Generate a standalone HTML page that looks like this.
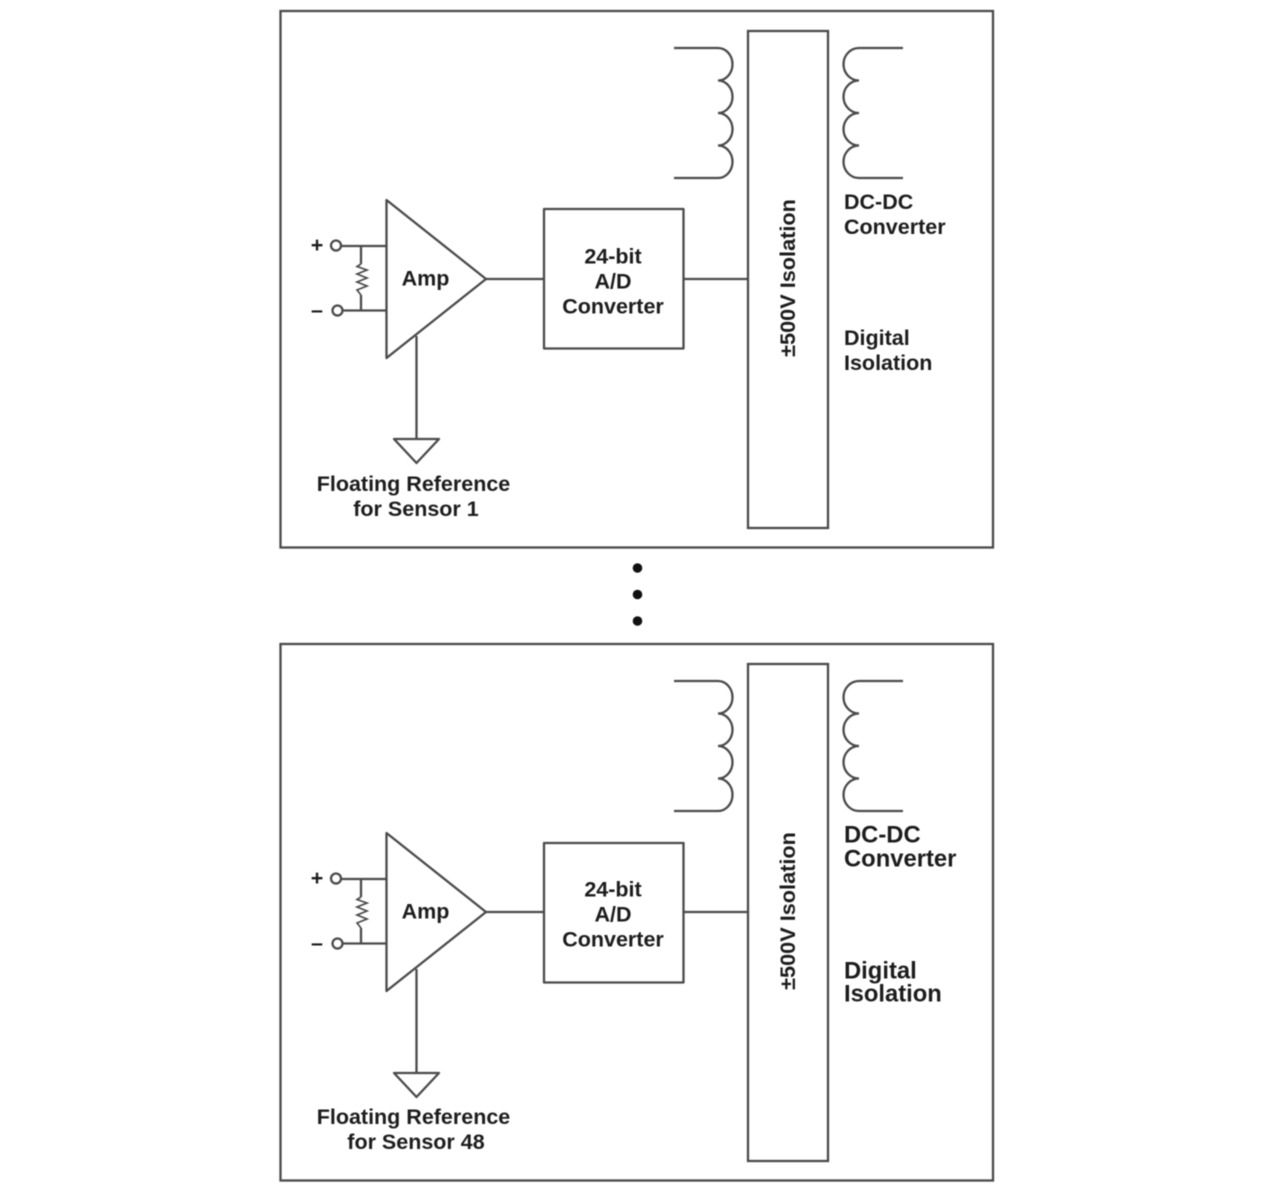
<!DOCTYPE html>
<html><head><meta charset="utf-8">
<style>html,body{margin:0;padding:0;background:#fff}svg{display:block;filter:blur(.55px)}
text{font-family:"Liberation Sans",sans-serif;font-weight:bold;fill:#1c1c1c}</style></head>
<body>
<svg width="1280" height="1190" viewBox="0 0 1280 1190" xmlns="http://www.w3.org/2000/svg">
<defs>
<g id="blk" fill="none" stroke="#4a4a4a" stroke-width="2.300">
<rect x="280.500" y="11" width="712.500" height="536.500"/>
<rect x="748" y="31" width="80" height="497"/>
<path d="M674 48H718A14.500 16.250 0 0 1 718 80.500A14.500 16.250 0 0 1 718 113A14.500 16.250 0 0 1 718 145.500A14.500 16.250 0 0 1 718 178H674"/>
<path d="M903 48H859A15.500 16.250 0 0 0 859 80.500A15.500 16.250 0 0 0 859 113A15.500 16.250 0 0 0 859 145.500A15.500 16.250 0 0 0 859 178H903"/>
<path d="M386.500 200L486 279L386.500 358Z" stroke-linejoin="round"/>
<path d="M486 279H544M683.500 279H748"/>
<path d="M342 246H386.500M343 310.500H386.500M361 246V264M361 295V310.500"/>
<path d="M361 264L357 266.500L367 270L357 274L367 278L357 282L367 286L357 290L361 295" stroke-width="1.700"/>
<circle cx="336" cy="245.500" r="5"/><circle cx="337.500" cy="310.500" r="5"/>
<path d="M416.500 336V439"/>
</g>
</defs>
<use href="#blk"/>
<use href="#blk" y="633"/>
<g fill="none" stroke="#4a4a4a" stroke-width="2.300" stroke-linejoin="round">
<rect x="544" y="209" width="139.500" height="139.500"/>
<rect x="544" y="843" width="139.500" height="139.500"/>
<path d="M394 439H439L416.500 463Z"/>
<path d="M394 1073H439L416.500 1097Z"/>
</g>
<g fill="#111"><circle cx="637.500" cy="568" r="4.800"/><circle cx="637.500" cy="594.500" r="4.800"/><circle cx="637.500" cy="621" r="4.800"/></g>

<g font-size="21.500">
<text x="425.500" y="285.500" text-anchor="middle">Amp</text>
<text x="613" y="263.500" text-anchor="middle">24-bit</text>
<text x="613" y="288.500" text-anchor="middle">A/D</text>
<text x="613" y="313.500" text-anchor="middle">Converter</text>
<text x="413.500" y="491" text-anchor="middle">Floating Reference</text>
<text x="416" y="516" text-anchor="middle">for Sensor 1</text>
<text x="844" y="209">DC-DC</text>
<text x="844" y="234">Converter</text>
<text x="844" y="345">Digital</text>
<text x="844" y="370">Isolation</text>
<text x="317" y="252" text-anchor="middle">+</text>
<text x="317" y="317" text-anchor="middle">–</text>

<text x="425.500" y="918.500" text-anchor="middle">Amp</text>
<text x="613" y="896.500" text-anchor="middle">24-bit</text>
<text x="613" y="921.500" text-anchor="middle">A/D</text>
<text x="613" y="946.500" text-anchor="middle">Converter</text>
<text x="413.500" y="1124" text-anchor="middle">Floating Reference</text>
<text x="416" y="1149" text-anchor="middle">for Sensor 48</text>
<text x="317" y="885" text-anchor="middle">+</text>
<text x="317" y="950" text-anchor="middle">–</text>
</g>
<g font-size="21.700">
<text transform="translate(795 278) rotate(-90)" text-anchor="middle">±500V Isolation</text>
<text transform="translate(795 911) rotate(-90)" text-anchor="middle">±500V Isolation</text>
</g>
<g font-size="23.800">
<text x="844" y="842.500">DC-DC</text>
<text x="844" y="866.500">Converter</text>
<text x="844" y="978.500">Digital</text>
<text x="844" y="1001.500">Isolation</text>
</g>
</svg>
</body></html>
